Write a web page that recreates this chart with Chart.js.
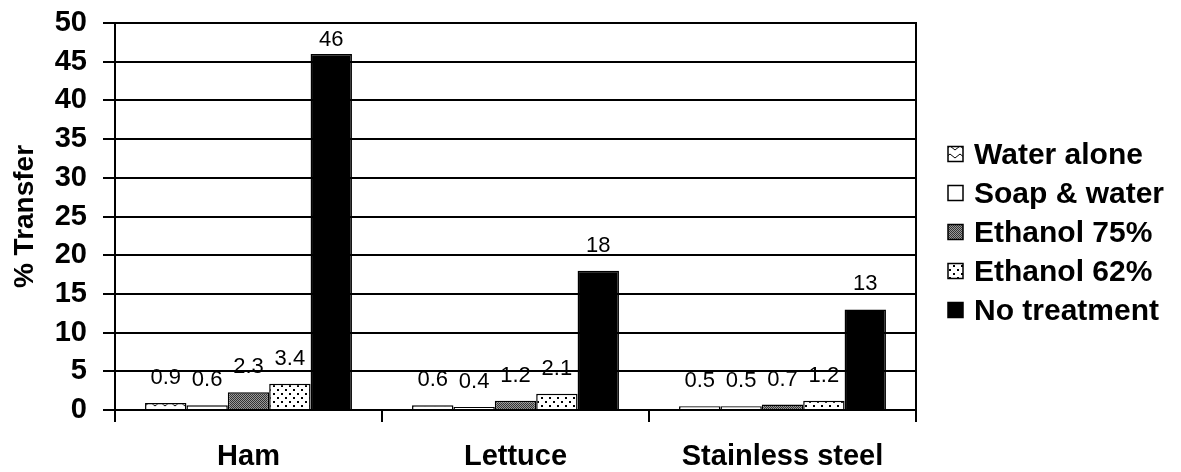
<!DOCTYPE html>
<html>
<head>
<meta charset="utf-8">
<script src="https://cdn.jsdelivr.net/npm/chart.js@4"></script>
<style>
  body { margin: 0; background: #fff; }
  #wrap { width: 1181px; height: 472px; }
</style>
</head>
<body>
<div id="wrap"><canvas id="graf" width="1181" height="472"></canvas></div>
<script>
"use strict";

const categories  = ["Ham", "Lettuce", "Stainless steel"];
const seriesNames = ["Water alone", "Soap & water", "Ethanol 75%", "Ethanol 62%", "No treatment"];
const waterAlone  = [0.9, 0.6, 0.5];
const soapWater   = [0.6, 0.4, 0.5];
const ethanol75   = [2.3, 1.2, 0.7];
const ethanol62   = [3.4, 2.1, 1.2];
const noTreatment = [46, 18, 13];
const yTicks      = [0, 5, 10, 15, 20, 25, 30, 35, 40, 45, 50];

// small canvas tiles used as fill patterns
function lavMoenster(type) {
  const c = document.createElement("canvas");
  const ctx = c.getContext("2d");
  if (type === "zigzag") {
    c.width = 10; c.height = 8;
    ctx.fillStyle = "#fff"; ctx.fillRect(0, 0, 10, 8);
    ctx.strokeStyle = "#000"; ctx.lineWidth = 1;
    ctx.beginPath();
    ctx.moveTo(0, 2); ctx.lineTo(5, 6); ctx.lineTo(10, 2);
    ctx.stroke();
  } else if (type === "dense") {
    c.width = 2; c.height = 2;
    ctx.fillStyle = "#9a9a9a"; ctx.fillRect(0, 0, 2, 2);
    ctx.fillStyle = "#333"; ctx.fillRect(0, 0, 1, 1); ctx.fillRect(1, 1, 1, 1);
  } else if (type === "dots") {
    c.width = 8; c.height = 8;
    ctx.fillStyle = "#fff"; ctx.fillRect(0, 0, 8, 8);
    ctx.fillStyle = "#000";
    ctx.fillRect(1, 1, 2, 2); ctx.fillRect(5, 5, 2, 2);
  }
  return document.getElementById("graf").getContext("2d").createPattern(c, "repeat");
}

const fills = [lavMoenster("zigzag"), "#fff", lavMoenster("dense"), lavMoenster("dots"), "#000"];
const vaerdier = [waterAlone, soapWater, ethanol75, ethanol62, noTreatment];
const fam = "'Liberation Sans', Arial, sans-serif";

const vaerdiEtiketter = {
  id: "vaerdiEtiketter",
  afterDatasetsDraw(chart) {
    const ctx = chart.ctx;
    ctx.save();
    ctx.font = "22px " + fam;
    ctx.fillStyle = "#000";
    ctx.textAlign = "center";
    ctx.textBaseline = "middle";
    chart.data.datasets.forEach((ds, i) => {
      chart.getDatasetMeta(i).data.forEach((bar, j) => {
        const y = Math.max(bar.y - 25, chart.chartArea.top + 17);
        ctx.fillText(String(ds.data[j]), bar.x, y);
      });
    });
    ctx.restore();
  }
};

// legend drawn by hand to the right of the plot, one row per dataset
const signatur = {
  id: "signatur",
  afterDraw(chart) {
    const ctx = chart.ctx;
    const x = chart.chartArea.right + 32;
    const rowH = 39;
    const n = chart.data.datasets.length;
    const midt = (chart.chartArea.top + chart.chartArea.bottom) / 2 + 16;
    ctx.save();
    ctx.font = "bold 30px " + fam;
    ctx.textBaseline = "middle";
    chart.data.datasets.forEach((ds, i) => {
      const y = midt + (i - (n - 1) / 2) * rowH;
      ctx.fillStyle = ds.backgroundColor;
      ctx.fillRect(x, y - 8, 15, 15);
      ctx.lineWidth = 1.5;
      ctx.strokeStyle = "#000";
      ctx.strokeRect(x, y - 8, 15, 15);
      ctx.fillStyle = "#000";
      ctx.fillText(ds.label, x + 26, y + 1);
    });
    ctx.restore();
  }
};

const boldFont = { family: fam, size: 29, weight: "bold", lineHeight: 1 };

new Chart(document.getElementById("graf"), {
  type: "bar",
  data: {
    labels: categories,
    datasets: seriesNames.map((navn, i) => ({
      label: navn,
      data: vaerdier[i],
      backgroundColor: fills[i],
      borderColor: "#000",
      borderWidth: 1.5,
      categoryPercentage: 0.775,
      barPercentage: 1
    }))
  },
  options: {
    responsive: false,
    animation: false,
    layout: { padding: { left: 4, top: 23, right: 265, bottom: 0 } },
    plugins: {
      tooltip: { enabled: false },
      legend: { display: false }
    },
    scales: {
      x: {
        grid: { offset: true, drawOnChartArea: false, color: "#000", lineWidth: 2, tickLength: 12 },
        border: { display: false },
        ticks: { color: "#000", font: boldFont, padding: 20 },
        afterFit: axis => { axis.height = 62; }
      },
      y: {
        min: 0,
        max: 50,
        afterBuildTicks: axis => { axis.ticks = yTicks.map(v => ({ value: v })); },
        grid: { color: "#000", lineWidth: 2, tickLength: 12 },
        border: { color: "#000", width: 2 },
        ticks: { color: "#000", font: boldFont, padding: 16 },
        title: {
          display: true, text: "% Transfer", color: "#000",
          font: { family: fam, size: 28, weight: "bold", lineHeight: 1.2 },
          padding: { top: 4, bottom: 12 }
        },
        afterFit: axis => { axis.width = 111; axis.paddingTop = 0; axis.paddingBottom = 0; }
      },
      y2: {
        position: "right",
        min: 0,
        max: 50,
        grid: { drawOnChartArea: false, drawTicks: false },
        border: { color: "#000", width: 2 },
        ticks: { display: false },
        afterFit: axis => { axis.width = 0; axis.paddingTop = 0; axis.paddingBottom = 0; }
      }
    }
  },
  plugins: [vaerdiEtiketter, signatur]
});
</script>
</body>
</html>
